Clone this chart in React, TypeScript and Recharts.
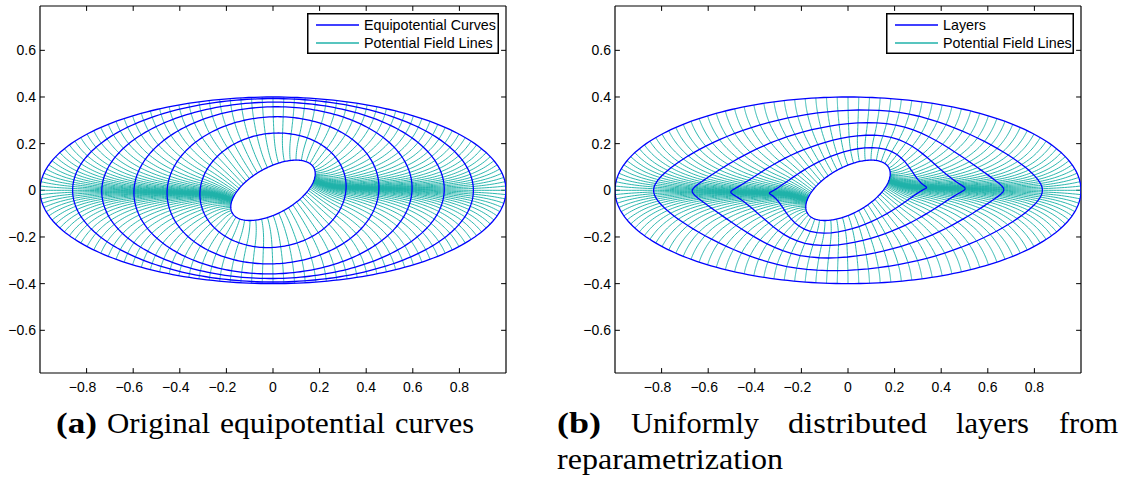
import React from "react";
import { LineChart, Line, XAxis, YAxis, ReferenceLine } from "recharts";

// axis ticks
const xTicks = [-0.8, -0.6, -0.4, -0.2, 0, 0.2, 0.4, 0.6, 0.8];
const yTicks = [-0.6, -0.4, -0.2, 0, 0.2, 0.4, 0.6];
const xDomain: [number, number] = [-1, 1];
const yDomain: [number, number] = [-0.783, 0.79];

// equipotential curves of panel (a), inner hole -> outer boundary
const ringA = [0.2, 0.315, 0.455, 0.597, 0.735, 0.86, 1.0]; // half width
const ringB = [0.098, 0.244, 0.315, 0.358, 0.378, 0.393, 0.4]; // half height
const ringTilt = [29, 8, 3, 1.5, 0.5, 0, 0]; // degrees
const fieldLineCount = 136; // field lines leave the outer boundary evenly

// panel (b): layers at equal steps along every field line
const layerSteps = [0.2, 0.4, 0.6, 0.8];

const legendA = ["Equipotential Curves", "Potential Field Lines"];
const legendB = ["Layers", "Potential Field Lines"];

const BLUE = "#0000ff";
const TEAL = "#20b2aa";

type Pt = [number, number];
type Ring = { a: number; b: number; t: number };

const ringOf = (j: number): Ring => ({ a: ringA[j], b: ringB[j], t: (ringTilt[j] * Math.PI) / 180 });

function onRing(r: Ring, phi: number): Pt {
  const u = r.a * Math.cos(phi);
  const v = r.b * Math.sin(phi);
  return [u * Math.cos(r.t) - v * Math.sin(r.t), u * Math.sin(r.t) + v * Math.cos(r.t)];
}

// curve between two drawn equipotentials
const SUB = 12;
function ringAt(u: number): Ring {
  const i = Math.min(Math.floor(u), ringA.length - 2);
  const f = u - i;
  const a = ringOf(i);
  const b = ringOf(i + 1);
  return { a: a.a + (b.a - a.a) * f, b: a.b + (b.b - a.b) * f, t: a.t + (b.t - a.t) * f };
}

function inwardNormal(r: Ring, P: Pt): Pt {
  const c = Math.cos(r.t);
  const s = Math.sin(r.t);
  const px = P[0] * c + P[1] * s;
  const py = -P[0] * s + P[1] * c;
  const gx = px / (r.a * r.a);
  const gy = py / (r.b * r.b);
  const nx = -(gx * c - gy * s);
  const ny = -(gx * s + gy * c);
  const l = Math.hypot(nx, ny) || 1;
  return [nx / l, ny / l];
}

function hit(r: Ring, P: Pt, n: Pt): Pt {
  const c = Math.cos(r.t);
  const s = Math.sin(r.t);
  const qx = P[0] * c + P[1] * s;
  const qy = -P[0] * s + P[1] * c;
  const mx = n[0] * c + n[1] * s;
  const my = -n[0] * s + n[1] * c;
  const a2 = r.a * r.a;
  const b2 = r.b * r.b;
  const A = (mx * mx) / a2 + (my * my) / b2;
  const B = 2 * ((qx * mx) / a2 + (qy * my) / b2);
  const C = (qx * qx) / a2 + (qy * qy) / b2 - 1;
  const disc = B * B - 4 * A * C;
  const t = disc >= 0 ? (-B - Math.sqrt(disc)) / (2 * A) : -B / (2 * A);
  return [P[0] + t * n[0], P[1] + t * n[1]];
}

// field line = orthogonal trajectory of the equipotentials, outer -> inner
function trace(s: number): Pt[] {
  const top = ringA.length - 1;
  let P = onRing(ringOf(top), s);
  const pts: Pt[] = [P];
  for (let k = top * SUB - 1; k >= 0; k--) {
    const cur = ringAt((k + 1) / SUB);
    const nxt = ringAt(k / SUB);
    const n1 = inwardNormal(cur, P);
    const P1 = hit(nxt, P, n1);
    const n2 = inwardNormal(nxt, P1);
    const nm: Pt = [n1[0] + n2[0], n1[1] + n2[1]];
    const l = Math.hypot(nm[0], nm[1]) || 1;
    P = hit(nxt, P, [nm[0] / l, nm[1] / l]);
    pts.push(P);
  }
  return pts.reverse();
}

function pointAt(path: Pt[], f: number): Pt {
  const seg: number[] = [0];
  for (let i = 1; i < path.length; i++) {
    seg.push(seg[i - 1] + Math.hypot(path[i][0] - path[i - 1][0], path[i][1] - path[i - 1][1]));
  }
  const target = seg[seg.length - 1] * f;
  for (let i = 1; i < path.length; i++) {
    if (seg[i] >= target) {
      const k = (target - seg[i - 1]) / (seg[i] - seg[i - 1] || 1);
      return [path[i - 1][0] + (path[i][0] - path[i - 1][0]) * k, path[i - 1][1] + (path[i][1] - path[i - 1][1]) * k];
    }
  }
  return path[path.length - 1];
}

const fieldLines: Pt[][] = Array.from({ length: fieldLineCount }, (_, k) => trace((2 * Math.PI * k) / fieldLineCount));

const ellipse = (j: number): Pt[] =>
  Array.from({ length: 241 }, (_, i) => onRing(ringOf(j), (2 * Math.PI * i) / 240));

const ringsA: Pt[][] = ringA.map((_, j) => ellipse(j));
const ringsB: Pt[][] = [
  ellipse(0),
  ...layerSteps.map((f) => {
    const r = fieldLines.map((p) => pointAt(p, f));
    return [...r, r[0]];
  }),
  ellipse(ringA.length - 1),
];

function toSeries(paths: Pt[][]) {
  const rows: { x: number; y: number | null }[] = [];
  paths.forEach((p) => {
    p.forEach(([x, y]) => rows.push({ x, y }));
    rows.push({ x: p[p.length - 1][0], y: null });
  });
  return rows;
}

const fieldData = toSeries(fieldLines);
const ringDataA = toSeries(ringsA);
const ringDataB = toSeries(ringsB);

const fmt = (v: number) => (v < 0 ? "\u2212" + Math.abs(v) : String(v));
const font = "'Liberation Sans', Arial, sans-serif";
const TL = 0.021;

const XTick = (props: any) => {
  const { x, y, payload } = props;
  return (
    <text x={x + (payload.value < 0 ? -4 : 0)} y={y} dy={11} textAnchor="middle" fontFamily={font} fontSize={14} fill="#000">
      {fmt(payload.value)}
    </text>
  );
};

const YTick = (props: any) => {
  const { y, payload } = props;
  return (
    <text x={36} y={y} dy={5} textAnchor="end" fontFamily={font} fontSize={14} fill="#000">
      {fmt(payload.value)}
    </text>
  );
};

function Panel({ rings, labels, legendLeft, legendW }: { rings: any[]; labels: string[]; legendLeft: number; legendW: number }) {
  const [y0, y1] = yDomain;
  return (
    <div style={{ position: "relative", width: 520, height: 400 }}>
      <LineChart width={520} height={400} margin={{ top: 6, right: 14, bottom: 0, left: 0 }}>
        <XAxis
          type="number"
          dataKey="x"
          domain={xDomain}
          ticks={xTicks}
          interval={0}
          allowDataOverflow
          height={27}
          tickSize={0}
          tickMargin={8}
          tickLine={false}
          axisLine={{ stroke: "#000", strokeWidth: 1.2 }}
          tick={<XTick />}
        />
        <YAxis
          type="number"
          dataKey="y"
          domain={yDomain}
          ticks={yTicks}
          interval={0}
          allowDataOverflow
          width={40}
          tickSize={0}
          tickMargin={4}
          tickLine={false}
          axisLine={{ stroke: "#000", strokeWidth: 1.2 }}
          tick={<YTick />}
        />
        <ReferenceLine y={y1} stroke="#000" strokeWidth={1.2} />
        <ReferenceLine x={1} stroke="#000" strokeWidth={1.2} />
        {xTicks.map((v) => (
          <ReferenceLine key={"b" + v} segment={[{ x: v, y: y0 }, { x: v, y: y0 + TL }]} stroke="#000" />
        ))}
        {xTicks.map((v) => (
          <ReferenceLine key={"t" + v} segment={[{ x: v, y: y1 }, { x: v, y: y1 - TL }]} stroke="#000" />
        ))}
        {yTicks.map((v) => (
          <ReferenceLine key={"l" + v} segment={[{ x: -1, y: v }, { x: -1 + TL, y: v }]} stroke="#000" />
        ))}
        {yTicks.map((v) => (
          <ReferenceLine key={"r" + v} segment={[{ x: 1, y: v }, { x: 1 - TL, y: v }]} stroke="#000" />
        ))}
        <Line
          data={fieldData}
          dataKey="y"
          type="linear"
          stroke={TEAL}
          strokeWidth={0.95}
          dot={false}
          activeDot={false}
          connectNulls={false}
          isAnimationActive={false}
        />
        <Line
          data={rings}
          dataKey="y"
          type="linear"
          stroke={BLUE}
          strokeWidth={1.3}
          dot={false}
          activeDot={false}
          connectNulls={false}
          isAnimationActive={false}
        />
      </LineChart>
      <svg width={legendW} height={41} style={{ position: "absolute", left: legendLeft, top: 13 }}>
        <rect x={0.75} y={0.75} width={legendW - 1.5} height={39.5} fill="#fff" stroke="#000" strokeWidth={1.5} />
        <line x1={9} x2={52} y1={12} y2={12} stroke={BLUE} strokeWidth={1.3} />
        <line x1={9} x2={52} y1={30} y2={30} stroke={TEAL} strokeWidth={1.3} />
        <text x={57} y={17} fontFamily={font} fontSize={14.3} fill="#000">{labels[0]}</text>
        <text x={57} y={35} fontFamily={font} fontSize={14.3} fill="#000">{labels[1]}</text>
      </svg>
    </div>
  );
}

const serif = "Liberation Serif, serif";

const Word = ({ x, y, w, bold, children }: any) => (
  <text x={x} y={y} textLength={w} lengthAdjust="spacingAndGlyphs" fontFamily={serif} fontSize={29} fontWeight={bold ? "bold" : "normal"} fill="#000">
    {children}
  </text>
);

export default function App() {
  return (
    <div style={{ position: "absolute", left: 0, top: 0, width: 1132, height: 479, background: "#fff" }}>
      <div style={{ position: "absolute", left: 0, top: 0 }}>
        <Panel rings={ringDataA} labels={legendA} legendLeft={307} legendW={192} />
      </div>
      <div style={{ position: "absolute", left: 575, top: 0 }}>
        <Panel rings={ringDataB} labels={legendB} legendLeft={311} legendW={188} />
      </div>
      <svg width={1132} height={479} style={{ position: "absolute", left: 0, top: 0, pointerEvents: "none" }}>
        <Word x={56} y={433} w={41} bold>(a)</Word>
        <Word x={107} y={433} w={103}>Original</Word>
        <Word x={220} y={433} w={165}>equipotential</Word>
        <Word x={395} y={433} w={79}>curves</Word>
        <Word x={557} y={433} w={44} bold>(b)</Word>
        <Word x={631} y={433} w={128}>Uniformly</Word>
        <Word x={788} y={433} w={139}>distributed</Word>
        <Word x={956} y={433} w={73}>layers</Word>
        <Word x={1059} y={433} w={59}>from</Word>
        <Word x={557} y={469} w={226}>reparametrization</Word>
      </svg>
    </div>
  );
}
